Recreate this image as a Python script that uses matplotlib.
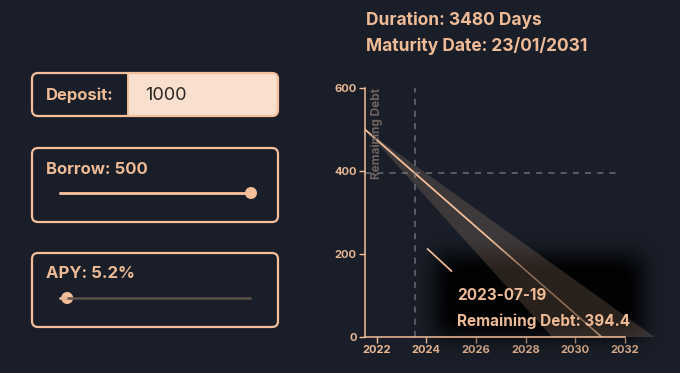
import numpy as np
import pandas as pd
import matplotlib
matplotlib.use("Agg")
import matplotlib.pyplot as plt
from matplotlib.patches import FancyBboxPatch, Rectangle, Circle

# ---------------- data ----------------
deposit = 1000
borrow = 500
borrow_range = [0, 500]
apy = 5.2
apy_range = [1, 100]
duration_days = 3480
maturity_label = "23/01/2031"

line_dates = ["2021-07-13", "2031-01-23"]
line_debt = [500, 0]
cone_dates = ["2021-07-13", "2033-03-10", "2029-01-25"]
cone_debt = [500, 0, 0]
hover_date = "2023-07-19"
hover_debt = 394.4
stub_dates = ["2024-01-20", "2025-01-05"]
stub_debt = [212, 159]

x_ticks = [2022, 2024, 2026, 2028, 2030, 2032]
y_ticks = [0, 200, 400, 600]


def dec_year(s):
    d = pd.Timestamp(s)
    start = pd.Timestamp(year=d.year, month=1, day=1)
    end = pd.Timestamp(year=d.year + 1, month=1, day=1)
    return d.year + (d - start) / (end - start)


BG = "#191e28"
PEACH = "#f4bf9a"
TEXT = "#efbb96"
LIGHT = "#f8dfce"
FONT = ["Inter", "DejaVu Sans"]

W, H = 680, 373
fig = plt.figure(figsize=(W / 100, H / 100), dpi=100, facecolor=BG)
plt.rcParams["font.family"] = FONT

# background/pixel axes
bg = fig.add_axes([0, 0, 1, 1])
bg.set_xlim(0, W)
bg.set_ylim(H, 0)
bg.axis("off")
bg.set_zorder(0)

# ---- Deposit box
bg.add_patch(FancyBboxPatch((32, 73), 246, 43, boxstyle="round,pad=0,rounding_size=6",
                            fc=LIGHT, ec="none", lw=0))
bg.add_patch(FancyBboxPatch((32, 73), 80, 43, boxstyle="round,pad=0,rounding_size=6",
                            fc=BG, ec="none", lw=0))
bg.add_patch(Rectangle((100, 73), 28, 43, fc=BG, ec="none", lw=0))
bg.add_patch(FancyBboxPatch((32, 73), 246, 43, boxstyle="round,pad=0,rounding_size=6",
                            fc="none", ec=PEACH, lw=1.6))
bg.plot([128, 128], [73, 116], color=PEACH, lw=1.4)
bg.text(46, 95, "Deposit:", color=TEXT, fontsize=12, fontweight="bold",
        va="center", ha="left")
bg.text(145, 95, f"{deposit}", color="#2a2622", fontsize=13,
        va="center", ha="left")

# ---- slider boxes
def slider_box(y0, label, value, vrange, track_color):
    bg.add_patch(FancyBboxPatch((32, y0), 246, 74, boxstyle="round,pad=0,rounding_size=6",
                                fc="none", ec=PEACH, lw=1.6))
    bg.text(46, y0 + 21, label, color=TEXT, fontsize=12, fontweight="bold",
            va="center", ha="left")
    x0, x1 = 59, 251
    ty = y0 + 45
    frac = (value - vrange[0]) / (vrange[1] - vrange[0])
    xt = x0 + frac * (x1 - x0)
    bg.plot([x0, x1], [ty, ty], color=track_color, lw=1.8, solid_capstyle="butt")
    bg.plot([x0, xt], [ty, ty], color=PEACH, lw=1.8, solid_capstyle="butt")
    bg.add_patch(Circle((xt, ty), 6, fc=PEACH, ec="none"))


slider_box(148, f"Borrow: {borrow}", borrow, borrow_range, PEACH)
slider_box(253, f"APY: {apy}%", apy, apy_range, "#5f514b")

# ---- header text
fig.text(366 / W, 1 - 20 / H, f"Duration: {duration_days} Days", color=TEXT,
         fontsize=12.5, fontweight="bold", va="center", ha="left")
fig.text(366 / W, 1 - 46 / H, f"Maturity Date: {maturity_label}", color=TEXT,
         fontsize=12.5, fontweight="bold", va="center", ha="left")

# ---------------- chart ----------------
ax = fig.add_axes([365 / W, 1 - 337 / H, (625 - 365) / W, (337 - 88) / H])
ax.set_zorder(1)
ax.patch.set_alpha(0)

lx = [dec_year(d) for d in line_dates]
cx = [dec_year(d) for d in cone_dates]
hx = dec_year(hover_date)
sx = [dec_year(d) for d in stub_dates]

ax.plot(lx, line_debt, color=PEACH, lw=1.2, zorder=2)
# dimmed copy above the tooltip shadow
ax.plot(lx, line_debt, color=PEACH, lw=1.1, alpha=0.45, zorder=2.6)

# tooltip shadow (blurred dark box, pixel coords)
gx0, gx1, gy0, gy1 = 385, 690, 205, 373
gw, gh = gx1 - gx0, gy1 - gy0
m = np.zeros((gh, gw))
m[256 - gy0:336 - gy0, 436 - gx0:642 - gx0] = 1.0
sig = 11
k = np.arange(-3 * sig, 3 * sig + 1)
kern = np.exp(-k ** 2 / (2 * sig ** 2))
kern /= kern.sum()
m = np.apply_along_axis(lambda r: np.convolve(r, kern, mode="same"), 1, m)
m = np.apply_along_axis(lambda c: np.convolve(c, kern, mode="same"), 0, m)
rgba = np.zeros((gh, gw, 4))
rgba[..., 3] = np.clip(m * 1.05, 0, 0.93)
ax.imshow(rgba, extent=[gx0, gx1, gy1, gy0], transform=bg.transData,
          zorder=2.5, clip_on=False, interpolation="bilinear", aspect="auto")

ax.fill(cx, cone_debt, color=PEACH, alpha=0.17, lw=0, zorder=3, clip_on=False)

ax.plot([hx, hx], [0, 600], color="#6a6e78", lw=1.1, ls=(0, (4, 4)), zorder=2)
ax.plot([lx[0], 2031.8], [hover_debt, hover_debt], color="#6a6e78", lw=1.1,
        ls=(0, (4, 4)), zorder=2)
ax.plot(sx, stub_debt, color=PEACH, lw=1.2, zorder=4)

ax.set_xlim(lx[0], 2032.0)
ax.set_ylim(0, 600)

ax.text(0.045, 1.0, "Remaining Debt", transform=ax.transAxes, rotation=90,
        color="#6f635d", fontsize=8.5, fontweight="bold", ha="center", va="top")

fig.text(457 / W, 1 - 295 / H, hover_date, color=TEXT, fontsize=11,
         fontweight="bold", va="center", ha="left", zorder=10)
fig.text(457 / W, 1 - 321 / H, f"Remaining Debt: {hover_debt}", color=TEXT,
         fontsize=11, fontweight="bold", va="center", ha="left", zorder=10)

for s in ["top", "right"]:
    ax.spines[s].set_visible(False)
for s in ["left", "bottom"]:
    ax.spines[s].set_color(PEACH)
    ax.spines[s].set_linewidth(1.1)
ax.set_xticks(x_ticks)
ax.set_xticklabels([str(t) for t in x_ticks])
ax.set_yticks(y_ticks)
ax.tick_params(colors=PEACH, length=4, width=1, labelsize=8, pad=2)
for lab in ax.get_xticklabels() + ax.get_yticklabels():
    lab.set_fontweight("bold")
    lab.set_color("#e9b895")

fig.savefig("out.png", dpi=100, facecolor=BG)
